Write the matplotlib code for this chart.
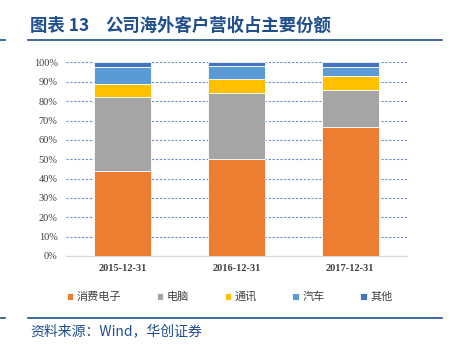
import matplotlib
matplotlib.use("Agg")
import matplotlib.pyplot as plt
import numpy as np

plt.rcParams['font.family'] = ['Noto Sans CJK SC', 'DejaVu Sans']

# 公司海外客户营收占比
years = ["2015-12-31", "2016-12-31", "2017-12-31"]
series_names = ["消费电子", "电脑", "通讯", "汽车", "其他"]
consumer = [43.8, 50.3, 66.8]
computer = [38.5, 33.8, 19.0]
telecom = [6.6, 7.4, 7.2]
auto = [8.6, 6.7, 4.8]
other = [2.5, 1.8, 2.2]
colors = ["#ED7D31", "#A5A5A5", "#FFC000", "#5B9BD5", "#4472C4"]

fig = plt.figure(figsize=(4.5, 3.56), dpi=100)
ax = fig.add_axes([0.1467, 0.281, 0.7577, 0.5435])

x = np.arange(len(years))
bottom = np.zeros(len(years))
for name, vals, c in zip(series_names, [consumer, computer, telecom, auto, other], colors):
    ax.bar(x, vals, 0.5, bottom=bottom, color=c, edgecolor="white", linewidth=0.6,
           label=name, zorder=3)
    bottom += np.array(vals)

ax.set_xlim(-0.5, 2.5)
ax.set_ylim(0, 100)
ax.set_yticks(np.arange(0, 101, 10))
ax.set_yticklabels([f"{v}%" for v in range(0, 101, 10)], fontfamily="Liberation Serif",
                   fontsize=7.5, color="#404040")
ax.set_xticks(x)
ax.set_xticklabels(years, fontfamily="Liberation Serif", fontsize=7.5,
                   fontweight="bold", color="#404040")
ax.tick_params(length=0, pad=6)
ax.yaxis.grid(True, linestyle=(0, (2, 1.5)), color="#4472C4", linewidth=0.8, alpha=0.8)
ax.set_axisbelow(True)
for s in ["top", "right", "left"]:
    ax.spines[s].set_visible(False)
ax.spines["bottom"].set_color("#D9D9D9")

leg = fig.legend(loc="center", bbox_to_anchor=(0.51, 1 - 296.7 / 356), ncol=5,
                 frameon=False, fontsize=8, handlelength=0.6, handleheight=0.6,
                 handletextpad=0.3, columnspacing=3.2)
for t in leg.get_texts():
    t.set_color("#404040")

# 标题与底部来源
navy = "#1F4E8C"
fig.text(30 / 450, 1 - 26 / 356, "图表 13", fontsize=12.5,
         fontweight="bold", color=navy, va="center", ha="left")
fig.text(105 / 450, 1 - 26 / 356, "公司海外客户营收占主要份额", fontsize=12.5,
         fontweight="bold", color=navy, va="center", ha="left")
fig.add_artist(plt.Line2D([28 / 450, 442 / 450], [1 - 40 / 356] * 2, color=navy, lw=1.2))
fig.add_artist(plt.Line2D([0, 5 / 450], [1 - 40 / 356] * 2, color=navy, lw=1.2))
fig.add_artist(plt.Line2D([28 / 450, 442 / 450], [1 - 318 / 356] * 2, color=navy, lw=1.2))
fig.add_artist(plt.Line2D([0, 5 / 450], [1 - 318 / 356] * 2, color=navy, lw=1.2))
fig.text(30 / 450, 1 - 331 / 356, "资料来源：Wind，华创证券", fontsize=10,
         style="italic", color=navy, va="center", ha="left")

fig.savefig("out.png", dpi=100)
